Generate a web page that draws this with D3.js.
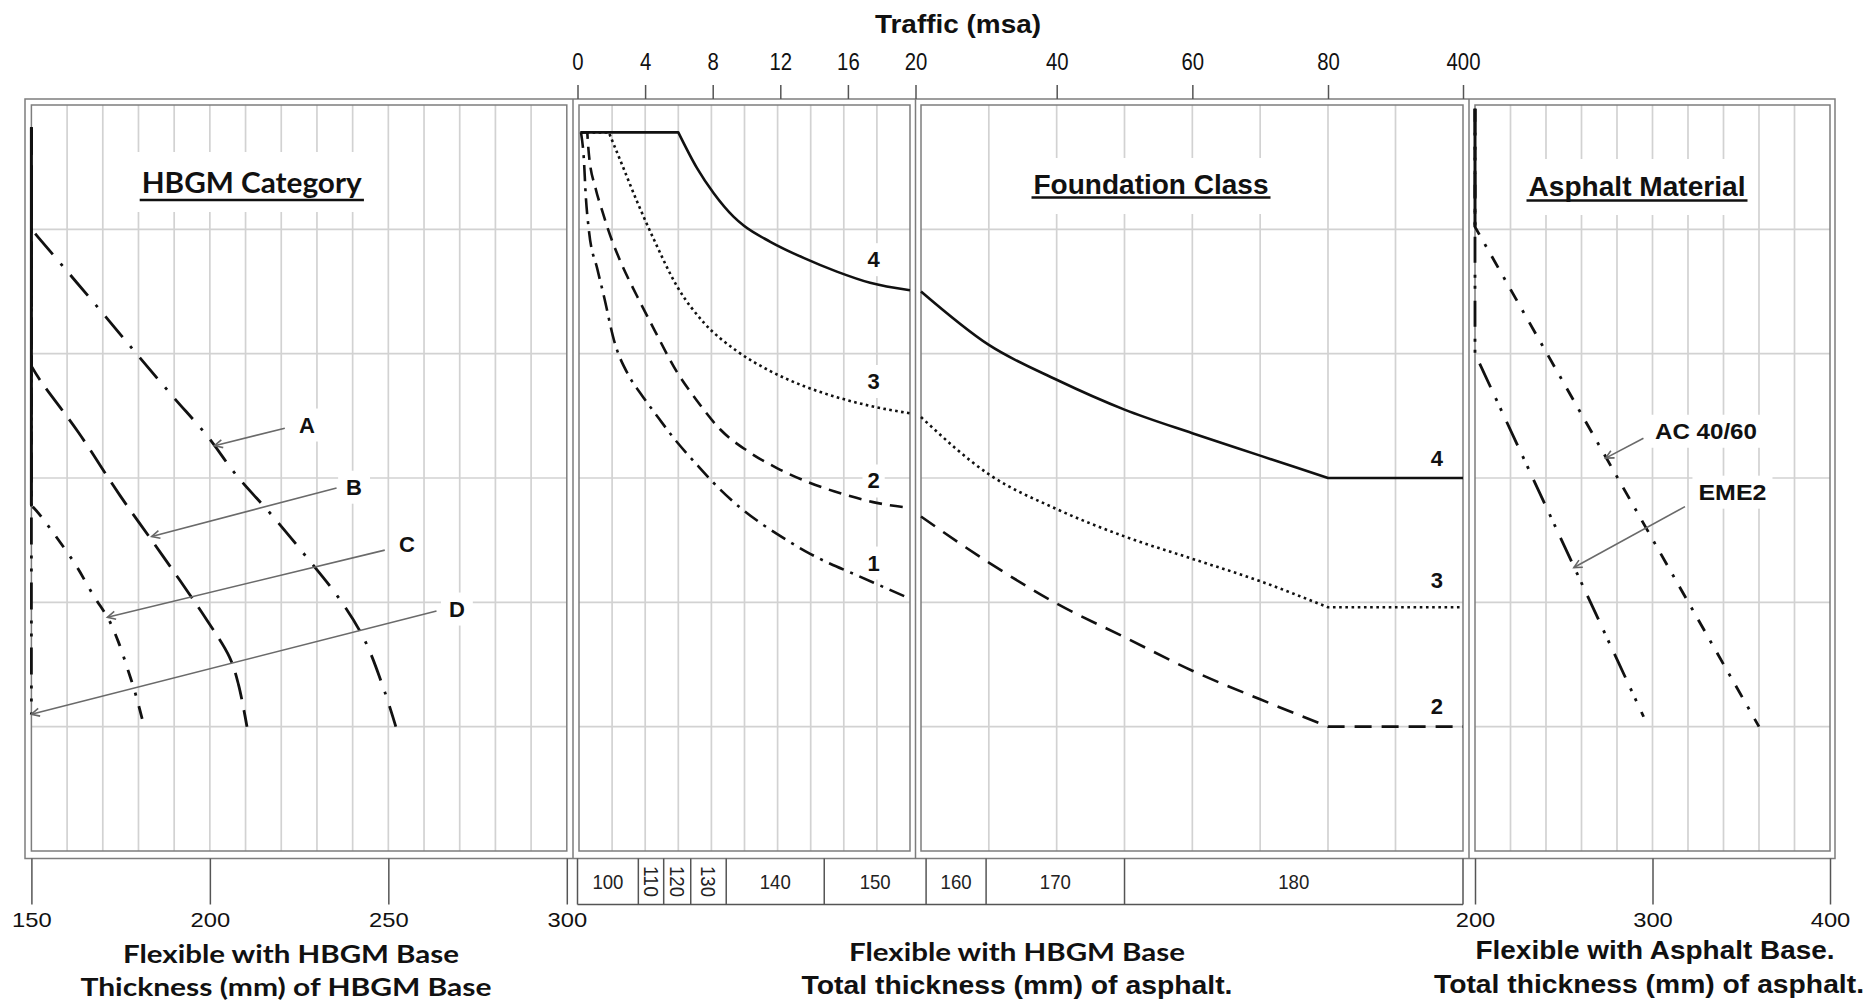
<!DOCTYPE html>
<html>
<head>
<meta charset="utf-8">
<title>Flexible pavement design nomograph</title>
<script src="https://cdn.jsdelivr.net/npm/d3@7/dist/d3.min.js"></script>
<style>
html,body{margin:0;padding:0;background:#fff;}
svg{display:block;}
</style>
</head>
<body>
<svg id="chart" width="1868" height="1003"></svg>
<script>
// ---------------- DATA ----------------
// Top axis: design traffic (msa)
const trafficTicks = [0, 4, 8, 12, 16, 20, 40, 60, 80, 400];
// Strip under the middle panel: total asphalt thickness (mm) for each traffic band (msa limits)
const asphaltThickness = [100, 110, 120, 130, 140, 150, 160, 170, 180];
const thicknessBandLimits = [0, 3.6, 5.1, 6.7, 8.8, 14.6, 21.5, 30, 50, 400];
// Bottom axes
const hbgmTicks = [150, 200, 250, 300];
const asphaltTicks = [200, 300, 400];
// Hidden common ordinate of the nomograph (grid levels 0..6)
const levelGrid = [1, 2, 3, 4, 5];

// HBGM Category curves: [HBGM base thickness (mm), level]
const hbgmA = [[150,5.82],[150,5.0],[152.1,4.93],[171.3,4.28],[180.6,3.96],[189.8,3.65],[199.2,3.34],[207.5,3.02],[217.4,2.70],[227.2,2.36],[236.0,2.04],[243.3,1.70],[249.0,1.28],[252.1,1.00]];
const hbgmB = [[150,5.82],[150,3.9],[152.6,3.78],[163.1,3.37],[174.8,2.86],[186.9,2.37],[199.1,1.86],[205.5,1.56],[208.0,1.34],[210.4,1.00]];
const hbgmC = [[150,5.82],[150,2.78],[151.9,2.72],[156.1,2.56],[162.2,2.31],[167.5,2.05],[171.5,1.87],[174.4,1.68],[177.0,1.46],[179.0,1.28],[181.6,1.00]];
const hbgmD = [[150,5.82],[150,1.10]];
const hbgmNames = ["A", "B", "C", "D"];
const hbgmLabelAt = [[227.2,3.43],[240.4,2.93],[255.2,2.47],[269.2,1.95]];
const hbgmArrowFrom = [[221.0,3.40],[235.5,2.92],[249.0,2.42],[263.5,1.93]];
const hbgmArrowTo = [[201.3,3.26],[183.7,2.53],[171.3,1.88],[150,1.10]];

// Foundation class curves, traffic 0–20 msa: [traffic (msa), level]
const fcLow4 = [[0.1,5.78],[6.0,5.78],[7.14,5.49],[8.14,5.29],[9.35,5.10],[9.95,5.03],[11.56,4.90],[13.57,4.77],[15.58,4.66],[17.59,4.57],[20,4.51]];
const fcLow3 = [[0.1,5.78],[1.8,5.78],[2.51,5.55],[3.52,5.22],[4.52,4.92],[5.93,4.54],[7.54,4.25],[9.55,4.02],[11.56,3.86],[13.57,3.74],[15.58,3.65],[17.59,3.58],[20,3.52]];
const fcLow2 = [[0.1,5.78],[0.5,5.78],[0.6,5.60],[1.0,5.33],[1.4,5.15],[1.73,5.01],[2.51,4.74],[3.52,4.46],[4.52,4.20],[5.93,3.85],[7.14,3.62],[8.54,3.39],[10.15,3.22],[11.96,3.08],[13.97,2.96],[15.98,2.87],[17.99,2.80],[20,2.76]];
const fcLow1 = [[0.12,5.78],[0.3,5.55],[0.4,5.29],[0.6,4.99],[1.11,4.68],[1.51,4.46],[2.11,4.11],[3.02,3.82],[3.72,3.68],[4.82,3.48],[5.73,3.32],[7.24,3.09],[8.14,2.96],[9.75,2.76],[11.16,2.62],[12.56,2.50],[13.97,2.39],[15.18,2.31],[16.58,2.23],[18.79,2.10],[20,2.03]];
const fcLowNames = ["4", "3", "2", "1"];
const fcLowLabelLevels = [4.76, 3.78, 2.98, 2.32];
const fcLowLabelTraffic = 17.8;

// Foundation class curves, traffic 20–400 msa
const fcHigh4 = [[20,4.50],[30,4.07],[40,3.79],[50,3.55],[60,3.36],[70,3.18],[80,3.00],[400,3.00]];
const fcHigh3 = [[20,3.49],[30,3.03],[40,2.75],[50,2.53],[60,2.35],[70,2.17],[80,1.96],[400,1.96]];
const fcHigh2 = [[20,2.69],[30,2.32],[40,1.99],[50,1.72],[60,1.45],[70,1.22],[80,1.00],[400,1.00]];
const fcHighNames = ["4", "3", "2"];
const fcHighLabelLevels = [3.16, 2.18, 1.17];
const fcHighLabelTraffic = 338;

// Asphalt Material lines: [total asphalt thickness (mm), level]
const ac4060 = [[200,5.97],[200,5.02],[360,1.00]];
const eme2 = [[200,5.97],[200,4.00],[295,1.08]];
const materialNames = ["AC 40/60", "EME2"];
const materialLabelAt = [[301.4,3.38],[325.9,2.89]];
const materialArrowFrom = [[294.9,3.32],[318.3,2.77]];
const materialArrowTo = [[273.6,3.16],[255.7,2.28]];

// ---------------- DRAWING ----------------
const SANS = "'Liberation Sans', Arial, Helvetica, sans-serif";
const CALI = "Lato, 'Open Sans', sans-serif";
const svg = d3.select("#chart");

const y = d3.scaleLinear().domain([0, 6]).range([851, 105]);
const xH = d3.scaleLinear().domain([150, 300]).range([31.4, 566.8]);
const x1 = d3.scaleLinear().domain([0, 20]).range([579, 910]);
const x2 = d3.scaleLinear().domain([20, 80, 400]).range([921, 1328, 1463]);
const xA = d3.scaleLinear().domain([200, 400]).range([1475, 1830]);
const xT = d3.scaleLinear().domain([0, 20, 40, 80, 400]).range([577.5, 915.5, 1056.7, 1328, 1463]);

const panels = [
  {x: xH, grid: d3.range(160, 300, 10)},
  {x: x1, grid: d3.range(2, 20, 2)},
  {x: x2, grid: [30, 40, 50, 60, 70, 80, 240]},
  {x: xA, grid: d3.range(220, 400, 20)}
];

const gGrid = svg.append("g");
const gBoxes = svg.append("g");
const gFrame = svg.append("g");
const gCurves = svg.append("g");
const gAnno = svg.append("g");
const gText = svg.append("g");

// grid
panels.forEach(p => {
  const r = p.x.range(), xa = r[0], xb = r[r.length - 1];
  gGrid.selectAll(null).data(p.grid).enter().append("line")
    .attr("x1", d => p.x(d)).attr("x2", d => p.x(d))
    .attr("y1", y(6)).attr("y2", y(0))
    .attr("stroke", "#d2d2d2").attr("stroke-width", 1.7);
  gGrid.selectAll(null).data(levelGrid).enter().append("line")
    .attr("x1", xa).attr("x2", xb)
    .attr("y1", d => y(d)).attr("y2", d => y(d))
    .attr("stroke", "#d2d2d2").attr("stroke-width", 1.7);
  // inner frame
  gFrame.append("rect").attr("x", xa).attr("y", y(6)).attr("width", xb - xa).attr("height", y(0) - y(6))
    .attr("fill", "none").attr("stroke", "#7d7d7d").attr("stroke-width", 1.5);
});
// outer frame & separators
gFrame.append("rect").attr("x", 25).attr("y", 99).attr("width", 1810).attr("height", 759.5)
  .attr("fill", "none").attr("stroke", "#7d7d7d").attr("stroke-width", 1.5);
[573, 915.5, 1469].forEach(sx => gFrame.append("line").attr("x1", sx).attr("x2", sx).attr("y1", 99).attr("y2", 858.5)
  .attr("stroke", "#7d7d7d").attr("stroke-width", 1.5));

// helper: text with white box
function boxedText(parent, txt, x, yy, opts) {
  const t = parent.append("text").text(txt).attr("x", x).attr("y", yy)
    .attr("font-family", opts.family || SANS).attr("font-size", opts.size)
    .attr("font-weight", opts.weight || "bold").attr("fill", opts.fill || "#111")
    .attr("text-anchor", opts.anchor || "middle");
  if (opts.len) t.attr("textLength", opts.len).attr("lengthAdjust", "spacingAndGlyphs");
  const bb = t.node().getBBox();
  const pad = opts.pad || [3, 3, 3, 3]; // top right bottom left
  if (opts.box !== false) {
    gBoxes.append("rect").attr("x", bb.x - pad[3]).attr("y", bb.y - pad[0])
      .attr("width", bb.width + pad[1] + pad[3]).attr("height", bb.height + pad[0] + pad[2]).attr("fill", "#fff");
  }
  if (opts.underline) {
    parent.append("line").attr("x1", bb.x - 2).attr("x2", bb.x + bb.width + 2)
      .attr("y1", opts.underline).attr("y2", opts.underline)
      .attr("stroke", "#111").attr("stroke-width", 2.6);
  }
  return t;
}

// series path: linear plateaus / verticals at the ends, smooth in between
function seriesPath(pts, xs, curve) {
  const lin = d3.line().x(d => xs(d[0])).y(d => y(d[1]));
  const sm = d3.line().x(d => xs(d[0])).y(d => y(d[1])).curve(curve);
  let s = 0;
  while (s + 1 < pts.length && (pts[s + 1][1] === pts[0][1] || pts[s + 1][0] === pts[0][0])) s++;
  let e = pts.length - 1;
  while (e - 1 > s && pts[e - 1][1] === pts[pts.length - 1][1]) e--;
  const parts = [];
  if (s > 0) parts.push(lin(pts.slice(0, s + 1)));
  if (e - s >= 1) parts.push(sm(pts.slice(s, e + 1)));
  if (e < pts.length - 1) parts.push(lin(pts.slice(e)));
  return parts.map((p, i) => i ? p.replace(/^M/, "L") : p).join("");
}
function drawSeries(pts, xs, curve, dash, w) {
  gCurves.append("path").attr("d", seriesPath(pts, xs, curve))
    .attr("fill", "none").attr("stroke", "#111").attr("stroke-width", w || 2.7)
    .attr("stroke-dasharray", dash).attr("stroke-linejoin", "round");
}
// shared vertical trunk where several lines overlap
function drawTrunk(series, xs) {
  const x0 = series[0][0][0];
  const dep = series.map(s => { let k = 0; while (k + 1 < s.length && s[k + 1][0] === x0) k++; return s[k][1]; }).sort((a, b) => a - b);
  const top = d3.max(series, s => s[0][1]);
  gCurves.append("line").attr("x1", xs(x0)).attr("x2", xs(x0)).attr("y1", y(top)).attr("y2", y(dep[1]))
    .attr("stroke", "#111").attr("stroke-width", 3);
}

const smoothLeft = d3.curveCatmullRom.alpha(0.5);
// HBGM category
drawSeries(hbgmA, xH, smoothLeft, "27,12,3,12", 2.8);
drawSeries(hbgmB, xH, smoothLeft, "27,11", 2.8);
drawSeries(hbgmC, xH, smoothLeft, "13,11,3,11", 2.8);
drawSeries(hbgmD, xH, d3.curveLinear, "27,11,3,10,3,11", 2.8);
drawTrunk([hbgmA, hbgmB, hbgmC, hbgmD], xH);

// Foundation class 0–20
drawSeries(fcLow4, x1, d3.curveMonotoneX, null, 2.6);
drawSeries(fcLow3, x1, d3.curveMonotoneX, "2.6,3.4", 2.6);
drawSeries(fcLow2, x1, d3.curveMonotoneX, "13,8", 2.6);
drawSeries(fcLow1, x1, d3.curveMonotoneX, "16,7,3,7", 2.6);
// Foundation class 20–400
drawSeries(fcHigh4, x2, d3.curveMonotoneX, null, 2.6);
drawSeries(fcHigh3, x2, d3.curveMonotoneX, "2.6,3.6", 2.6);
drawSeries(fcHigh2, x2, d3.curveMonotoneX, "17,10", 2.6);

// Asphalt material
drawSeries(ac4060, xA, d3.curveLinear, "13,11,3,11", 2.8);
drawSeries(eme2, xA, d3.curveLinear, "26,12,3,8,3,12", 2.8);
drawTrunk([ac4060, eme2], xA);

// arrow marker
svg.append("defs").append("marker").attr("id", "arr")
  .attr("viewBox", "-12 -6 14 12").attr("refX", 0).attr("refY", 0)
  .attr("markerWidth", 14).attr("markerHeight", 12).attr("markerUnits", "userSpaceOnUse")
  .attr("orient", "auto")
  .append("path").attr("d", "M-8,-4L0,0L-8,4").attr("fill", "none").attr("stroke", "#666").attr("stroke-width", 1.6);

function leaders(from, to, xs) {
  gAnno.selectAll(null).data(d3.zip(from, to)).enter().append("line")
    .attr("x1", d => xs(d[0][0])).attr("y1", d => y(d[0][1]))
    .attr("x2", d => xs(d[1][0])).attr("y2", d => y(d[1][1]))
    .attr("stroke", "#6a6a6a").attr("stroke-width", 1.6).attr("marker-end", "url(#arr)");
}
leaders(hbgmArrowFrom, hbgmArrowTo, xH);
leaders(materialArrowFrom, materialArrowTo, xA);

// labels
hbgmNames.forEach((n, i) => boxedText(gText, n, xH(hbgmLabelAt[i][0]), y(hbgmLabelAt[i][1]) + 8, {size: 22, pad: [4, 8, 4, 8]}));
materialNames.forEach((n, i) => boxedText(gText, n, xA(materialLabelAt[i][0]), y(materialLabelAt[i][1]) + 8,
  {size: 22, anchor: "start", len: i === 0 ? 102 : 68, pad: [4, 6, 4, 6]}));
fcLowNames.forEach((n, i) => boxedText(gText, n, x1(fcLowLabelTraffic), y(fcLowLabelLevels[i]) + 8, {size: 22, pad: [4, 5, 4, 5]}));
fcHighNames.forEach((n, i) => boxedText(gText, n, x2(fcHighLabelTraffic), y(fcHighLabelLevels[i]) + 8, {size: 22, pad: [4, 5, 4, 5]}));

// panel titles
boxedText(gText, "HBGM Category", 251.7, 193, {family: CALI, size: 28, len: 220, underline: 200, pad: [13, 6, 13, 6]});
boxedText(gText, "Foundation Class", 1151, 194, {size: 27, len: 235, underline: 197.5, pad: [12, 6, 14, 6]});
boxedText(gText, "Asphalt Material", 1637, 196, {size: 27, len: 217, underline: 200.5, pad: [13, 6, 13, 6]});

// top axis
const topAxis = svg.append("g").attr("transform", "translate(0,99)")
  .call(d3.axisTop(xT).tickValues(trafficTicks).tickSize(14).tickPadding(15).tickFormat(d3.format("d")));
topAxis.select(".domain").remove();
topAxis.selectAll(".tick line").attr("stroke", "#555").attr("stroke-width", 1.5);
topAxis.selectAll(".tick text").attr("font-family", SANS).attr("font-size", 23).attr("fill", "#111")
  .each(function (d) { d3.select(this).attr("textLength", String(d).length * 11.3).attr("lengthAdjust", "spacingAndGlyphs"); });
svg.append("text").text("Traffic (msa)").attr("x", 958).attr("y", 33).attr("text-anchor", "middle")
  .attr("font-family", SANS).attr("font-weight", "bold").attr("font-size", 25).attr("fill", "#111")
  .attr("textLength", 166).attr("lengthAdjust", "spacingAndGlyphs");

// bottom axes
function bottomAxis(scale, ticks) {
  const g = svg.append("g").attr("transform", "translate(0,858.5)")
    .call(d3.axisBottom(scale).tickValues(ticks).tickSize(46).tickFormat(d3.format("d")));
  g.select(".domain").remove();
  g.selectAll(".tick line").attr("stroke", "#555").attr("stroke-width", 1.5);
  g.selectAll(".tick text").attr("y", 68.5).attr("dy", null).attr("font-family", SANS).attr("font-size", 21).attr("fill", "#111")
    .attr("textLength", 39.6).attr("lengthAdjust", "spacingAndGlyphs");
}
bottomAxis(xH, hbgmTicks);
bottomAxis(xA, asphaltTicks);

// thickness strip
const strip = svg.append("g");
const stripTop = 858.5, stripBot = 904.5;
strip.append("line").attr("x1", xT(thicknessBandLimits[0])).attr("x2", xT(thicknessBandLimits[thicknessBandLimits.length - 1]))
  .attr("y1", stripBot).attr("y2", stripBot).attr("stroke", "#555").attr("stroke-width", 1.5);
strip.selectAll(null).data(thicknessBandLimits).enter().append("line")
  .attr("x1", d => xT(d)).attr("x2", d => xT(d)).attr("y1", stripTop).attr("y2", stripBot)
  .attr("stroke", "#555").attr("stroke-width", 1.5);
asphaltThickness.forEach((v, i) => {
  const a = xT(thicknessBandLimits[i]), b = xT(thicknessBandLimits[i + 1]);
  const cx = (a + b) / 2, cy = (stripTop + stripBot) / 2;
  const t = strip.append("text").text(v).attr("font-family", SANS).attr("font-size", 21).attr("fill", "#222")
    .attr("text-anchor", "middle").attr("textLength", 31).attr("lengthAdjust", "spacingAndGlyphs");
  if (b - a < 40) t.attr("transform", `translate(${cx - 7.5},${cy}) rotate(90)`);
  else t.attr("x", cx).attr("y", cy + 7.5);
});

// axis titles
const titles = [
  ["Flexible with HBGM Base", 291, 963, CALI, 336],
  ["Thickness (mm) of HBGM Base", 286, 996, CALI, 411],
  ["Flexible with HBGM Base", 1017, 961, CALI, 336],
  ["Total thickness (mm) of asphalt.", 1017, 994, SANS, 431],
  ["Flexible with Asphalt Base.", 1655, 959, SANS, 359],
  ["Total thickness (mm) of asphalt.", 1649, 993, SANS, 430]
];
titles.forEach(([txt, x, yy, fam, len]) => svg.append("text").text(txt).attr("x", x).attr("y", yy)
  .attr("text-anchor", "middle").attr("font-family", fam).attr("font-weight", "bold").attr("font-size", 25)
  .attr("fill", "#111").attr("textLength", len).attr("lengthAdjust", "spacingAndGlyphs"));
</script>
</body>
</html>
